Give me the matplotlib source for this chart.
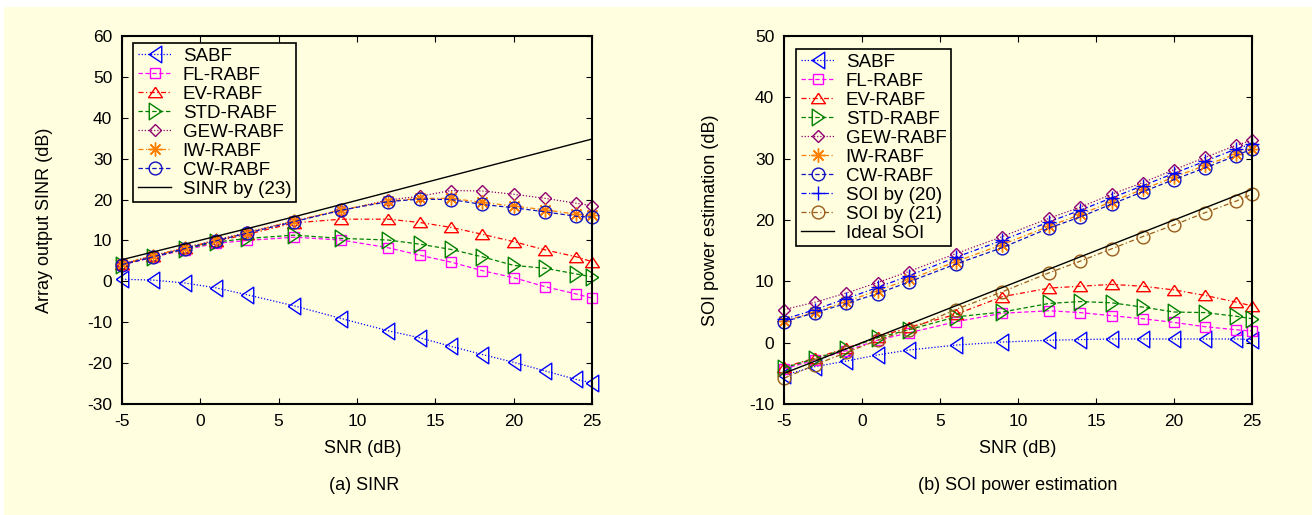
import matplotlib
matplotlib.use('Agg')
import matplotlib.pyplot as plt
from matplotlib.patches import Rectangle

plt.rcParams['font.family'] = ['Liberation Sans', 'DejaVu Sans']
plt.rcParams['axes.unicode_minus'] = False

BG = '#FFFFE0'

# SNR (dB) sample points, shared by both panels
snr = [-5, -3, -1, 1, 3, 6, 9, 12, 14, 16, 18, 20, 22, 24, 25]

# (a) array output SINR (dB)
sabf_sinr = [0.5, 0.3, -0.4, -1.6, -3.3, -6.0, -9.1, -12.1, -13.8, -15.9, -17.9, -19.8, -21.9, -24.0, -24.8]
fl_sinr = [4.0, 5.9, 7.7, 9.3, 10.0, 10.8, 10.1, 8.2, 6.4, 4.7, 2.6, 0.9, -1.3, -3.1, -4.1]
ev_sinr = [4.2, 6.2, 8.1, 9.8, 11.5, 14.3, 15.2, 15.2, 14.4, 13.2, 11.5, 9.7, 7.7, 6.0, 4.8]
std_sinr = [4.1, 6.0, 7.9, 9.6, 10.5, 11.3, 10.5, 10.1, 9.1, 7.8, 6.0, 3.9, 3.2, 1.8, 1.1]
gew_sinr = [4.2, 6.3, 8.2, 10.1, 12.0, 14.8, 17.3, 19.9, 20.8, 22.2, 22.1, 21.3, 20.3, 19.1, 18.5]
iw_sinr = [4.3, 6.2, 8.2, 10.0, 11.9, 14.8, 17.5, 19.6, 20.3, 20.3, 19.3, 18.4, 17.5, 16.4, 16.2]
cw_sinr = [4.1, 6.0, 8.0, 9.9, 11.8, 14.6, 17.4, 19.5, 20.1, 20.0, 18.8, 18.0, 17.0, 15.9, 15.7]
sinr_23 = [5.3, 7.2, 9.1, 11.0, 12.9, 15.8, 18.8, 21.8, 23.8, 25.8, 27.8, 29.8, 31.8, 33.8, 34.8]

# (b) SOI power estimation (dB)
sabf_soi = [-5.3, -3.9, -3.0, -2.0, -1.2, -0.4, 0.1, 0.4, 0.5, 0.6, 0.6, 0.6, 0.6, 0.6, 0.5]
fl_soi = [-4.3, -2.8, -1.3, 0.4, 1.6, 3.4, 4.8, 5.2, 4.9, 4.4, 3.9, 3.3, 2.6, 2.1, 1.9]
ev_soi = [-4.0, -2.5, -0.9, 0.9, 2.5, 4.6, 7.5, 8.9, 9.2, 9.5, 9.2, 8.6, 7.7, 6.6, 6.0]
std_soi = [-4.1, -2.6, -1.0, 0.8, 2.1, 4.2, 5.0, 6.4, 6.7, 6.5, 5.8, 5.0, 4.9, 4.3, 3.9]
gew_soi = [5.4, 6.6, 8.1, 9.8, 11.6, 14.5, 17.3, 20.3, 22.1, 24.2, 26.1, 28.2, 30.2, 32.2, 33.0]
iw_soi = [3.5, 5.0, 6.7, 8.5, 10.3, 13.2, 16.0, 19.0, 20.9, 23.0, 25.0, 27.0, 28.9, 30.8, 31.6]
cw_soi = [3.4, 4.9, 6.4, 8.0, 9.9, 12.8, 15.5, 18.7, 20.5, 22.6, 24.6, 26.6, 28.5, 30.5, 31.6]
soi_20 = [3.8, 5.4, 7.2, 9.0, 10.9, 13.9, 16.7, 19.7, 21.6, 23.6, 25.6, 27.6, 29.6, 31.6, 32.4]
soi_21 = [-5.8, -3.6, -1.6, 0.4, 2.1, 5.4, 8.3, 11.4, 13.3, 15.3, 17.3, 19.2, 21.2, 23.1, 24.2]
ideal_soi = [-5, -3, -1, 1, 3, 6, 9, 12, 14, 16, 18, 20, 22, 24, 25]

# marker shapes (gnuplot-like triangles)
TRI_L = [(-0.75, 0), (0.75, 1), (0.75, -1), (-0.75, 0)]
TRI_R = [(0.75, 0), (-0.75, 1), (-0.75, -1), (0.75, 0)]
TRI_U = [(0, 0.75), (-1, -0.75), (1, -0.75), (0, 0.75)]

DOT = (0, (1, 1.5))
DASH = (0, (3.5, 2))
DASHDOT = (0, (4, 2, 1, 2))

STYLE = {
    'SABF': ('#0000FF', DOT, TRI_L, 12),
    'FL-RABF': ('#FF00FF', DASH, 's', 7.2),
    'EV-RABF': ('#FF0000', DASHDOT, TRI_U, 10),
    'STD-RABF': ('#008000', DASH, TRI_R, 12),
    'GEW-RABF': ('#900070', DOT, 'D', 6),
    'IW-RABF': ('#FF8000', DASHDOT, (8, 2, 0), 10),
    'CW-RABF': ('#1010C0', DASH, 'o', 9.2),
    'SOI by (20)': ('#0000FF', DASHDOT, '+', 10),
    'SOI by (21)': ('#9A5B1A', DASHDOT, 'o', 9.2),
}


def draw(ax, label, values):
    if label in STYLE:
        color, ls, marker, ms = STYLE[label]
        ax.plot(snr, values, color=color, linestyle=ls, linewidth=0.9,
                marker=marker, markersize=ms, markerfacecolor='none',
                markeredgecolor=color, markeredgewidth=1.0,
                label=label, clip_on=False)
    else:
        ax.plot(snr, values, color='black', linestyle='-', linewidth=1.0,
                label=label, clip_on=False)


def style_axes(ax, ylim, ylabel, ylab_x, xlab_x, leg_anchor):
    ax.set_facecolor(BG)
    ax.set_xlim(-5, 25)
    ax.set_ylim(*ylim)
    ax.set_xticks(range(-5, 26, 5))
    ax.set_yticks(range(ylim[0], ylim[1] + 1, 10))
    ax.tick_params(direction='in', top=True, right=True, length=4.5,
                   width=0.8, labelsize=12.5, pad=7)
    for sp in ax.spines.values():
        sp.set_linewidth(1.5)
    ax.set_xlabel('SNR (dB)', fontsize=13)
    ax.set_ylabel(ylabel, fontsize=13)
    ax.xaxis.set_label_coords(xlab_x, -0.098)
    ax.yaxis.set_label_coords(ylab_x, 0.5)
    leg = ax.legend(loc='upper left', bbox_to_anchor=leg_anchor, borderaxespad=0,
                    fontsize=13.5, handlelength=1.8, handletextpad=0.6,
                    labelspacing=0.1, borderpad=0.25, fancybox=False,
                    edgecolor='black', facecolor=BG, framealpha=1)
    leg.get_frame().set_linewidth(1.2)


fig = plt.figure(figsize=(13.12, 5.15), dpi=100)
fig.patch.set_facecolor('white')
fig.patches.append(Rectangle((4 / 1312, 0), 1, 1 - 7 / 515, transform=fig.transFigure,
                             facecolor=BG, edgecolor='none', zorder=-10))

ax1 = fig.add_axes([122 / 1312, 111 / 515, 470 / 1312, 368 / 515])
ax2 = fig.add_axes([784 / 1312, 111 / 515, 468 / 1312, 368 / 515])

# 左图：SINR
for lab, vals in [('SABF', sabf_sinr), ('FL-RABF', fl_sinr), ('EV-RABF', ev_sinr),
                  ('STD-RABF', std_sinr), ('GEW-RABF', gew_sinr), ('IW-RABF', iw_sinr),
                  ('CW-RABF', cw_sinr), ('SINR by (23)', sinr_23)]:
    draw(ax1, lab, vals)
style_axes(ax1, (-30, 60), 'Array output SINR (dB)', -0.147, 0.513, (0.0234, 0.981))

# 右图：SOI 功率估计
for lab, vals in [('SABF', sabf_soi), ('FL-RABF', fl_soi), ('EV-RABF', ev_soi),
                  ('STD-RABF', std_soi), ('GEW-RABF', gew_soi), ('IW-RABF', iw_soi),
                  ('CW-RABF', cw_soi), ('SOI by (20)', soi_20), ('SOI by (21)', soi_21),
                  ('Ideal SOI', ideal_soi)]:
    draw(ax2, lab, vals)
style_axes(ax2, (-10, 50), 'SOI power estimation (dB)', -0.139, 0.5, (0.0256, 0.965))

fig.text(364 / 1312, 30 / 515, '(a) SINR', ha='center', va='center', fontsize=13)
fig.text(1018 / 1312, 30 / 515, '(b) SOI power estimation', ha='center', va='center', fontsize=13)

fig.savefig('out.png', dpi=100, facecolor=fig.get_facecolor())
plt.close(fig)
